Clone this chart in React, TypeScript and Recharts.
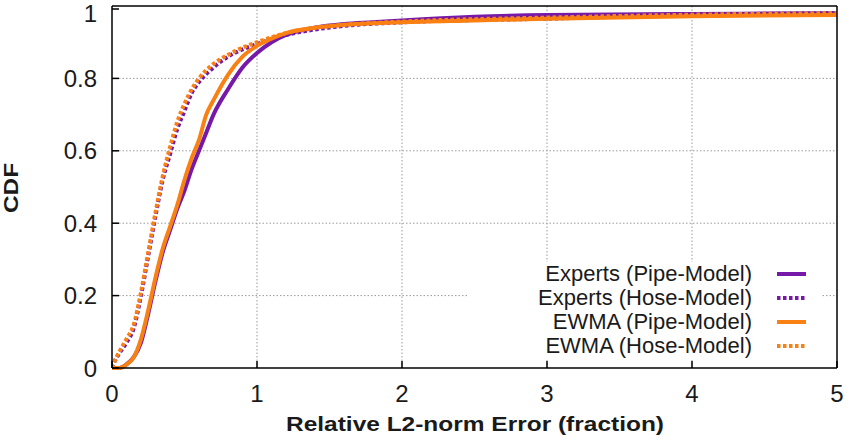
import React from 'react';
import {
    LineChart,
    Line,
    XAxis,
    YAxis,
    CartesianGrid,
} from 'recharts';

const themeColors = {
    experts: '#7619a8',
    ewma: '#f98012',
    grid: '#9a9a9a',
    axis: '#000000',
    text: '#1a1a1a'
};

const fontFamily = '"Liberation Sans", Arial, Helvetica, sans-serif';

// CDF samples: [error, cumulative fraction]
const expertsPipe = [
    [0, 0], [0.05, 0], [0.1, 0.01], [0.15, 0.03], [0.2, 0.07], [0.25, 0.15],
    [0.3, 0.24], [0.35, 0.32], [0.4, 0.38], [0.45, 0.44], [0.5, 0.49],
    [0.55, 0.55], [0.6, 0.6], [0.65, 0.65], [0.7, 0.7], [0.8, 0.77],
    [0.9, 0.83], [1.0, 0.87], [1.1, 0.9], [1.2, 0.92], [1.4, 0.94],
    [1.6, 0.95], [1.8, 0.955], [2.0, 0.96], [2.5, 0.97], [3.0, 0.975],
    [4.0, 0.978], [5.0, 0.98]
];

const expertsHose = [
    [0, 0], [0.02, 0.02], [0.05, 0.04], [0.1, 0.07], [0.15, 0.11], [0.2, 0.2],
    [0.25, 0.31], [0.3, 0.42], [0.35, 0.52], [0.4, 0.59], [0.45, 0.66],
    [0.5, 0.71], [0.55, 0.76], [0.6, 0.79], [0.7, 0.83], [0.8, 0.86],
    [0.9, 0.88], [1.0, 0.895], [1.2, 0.92], [1.4, 0.935], [1.6, 0.945],
    [2.0, 0.955], [3.0, 0.965], [4.0, 0.975], [5.0, 0.98]
];

const ewmaPipe = [
    [0, 0], [0.05, 0], [0.1, 0.01], [0.15, 0.03], [0.2, 0.08], [0.25, 0.16],
    [0.3, 0.25], [0.35, 0.33], [0.4, 0.39], [0.45, 0.45], [0.5, 0.52],
    [0.55, 0.58], [0.6, 0.63], [0.65, 0.7], [0.7, 0.74], [0.8, 0.81],
    [0.9, 0.86], [1.0, 0.89], [1.1, 0.91], [1.2, 0.925], [1.4, 0.94],
    [1.6, 0.948], [2.0, 0.955], [2.5, 0.96], [3.0, 0.965], [4.0, 0.972],
    [5.0, 0.975]
];

const ewmaHose = [
    [0, 0], [0.02, 0.02], [0.05, 0.045], [0.1, 0.08], [0.15, 0.12], [0.2, 0.21],
    [0.25, 0.32], [0.3, 0.43], [0.35, 0.53], [0.4, 0.61], [0.45, 0.68],
    [0.5, 0.73], [0.55, 0.77], [0.6, 0.8], [0.7, 0.84], [0.8, 0.865],
    [0.9, 0.885], [1.0, 0.9], [1.2, 0.925], [1.4, 0.94], [1.6, 0.948],
    [2.0, 0.957], [3.0, 0.968], [4.0, 0.976], [5.0, 0.98]
];

const xTicks = [0, 1, 2, 3, 4, 5];
const yTicks = [0, 0.2, 0.4, 0.6, 0.8, 1];

const series = [
    { name: 'Experts (Pipe-Model)', points: expertsPipe, color: themeColors.experts, dash: undefined },
    { name: 'Experts (Hose-Model)', points: expertsHose, color: themeColors.experts, dash: '3.5 2.5' },
    { name: 'EWMA (Pipe-Model)', points: ewmaPipe, color: themeColors.ewma, dash: undefined },
    { name: 'EWMA (Hose-Model)', points: ewmaHose, color: themeColors.ewma, dash: '3.5 2.5' }
];

const toRows = (pts: number[][]) => pts.map(([x, y]) => ({ x, y }));

const TICK_LEN = 7;

const BottomTick = ({ x, y, payload }: any) => (
    <g>
        <line x1={x} x2={x} y1={y} y2={y - TICK_LEN} stroke={themeColors.axis} strokeWidth={1.5} />
        <text x={x} y={y + 34} textAnchor="middle" fontSize={24} fontFamily={fontFamily} fill={themeColors.text}>
            {payload.value}
        </text>
    </g>
);

const TopTick = ({ x, y }: any) => (
    <line x1={x} x2={x} y1={y} y2={y + TICK_LEN} stroke={themeColors.axis} strokeWidth={1.5} />
);

// keep the topmost label ("1") inside the canvas
const LeftTick = ({ x, y, payload }: any) => (
    <g>
        <line x1={x} x2={x + TICK_LEN} y1={y} y2={y} stroke={themeColors.axis} strokeWidth={1.5} />
        <text x={x - 15} y={Math.max(y + 8.5, 22)} textAnchor="end" fontSize={24} fontFamily={fontFamily} fill={themeColors.text}>
            {payload.value}
        </text>
    </g>
);

const RightTick = ({ x, y }: any) => (
    <line x1={x} x2={x - TICK_LEN} y1={y} y2={y} stroke={themeColors.axis} strokeWidth={1.5} />
);

function KeyBox() {
    return (
        <div
            style={{
                position: 'absolute',
                left: 467,
                top: 262,
                width: 355,
                height: 98,
                background: '#fff',
                fontFamily,
                fontSize: 22,
                color: themeColors.text
            }}
        >
            {series.map((s, i) => (
                <div
                    key={s.name}
                    style={{
                        position: 'absolute',
                        right: 0,
                        top: i * 24,
                        height: 24,
                        display: 'flex',
                        alignItems: 'center',
                        whiteSpace: 'nowrap'
                    }}
                >
                    <span>{s.name}</span>
                    <svg width={70} height={24} style={{ display: 'block' }}>
                        <line
                            x1={25}
                            x2={54}
                            y1={12}
                            y2={12}
                            stroke={s.color}
                            strokeWidth={4}
                            strokeDasharray={s.dash}
                        />
                    </svg>
                </div>
            ))}
        </div>
    );
}

export default function App() {
    return (
        <div style={{ position: 'absolute', left: 0, top: 0, width: 847, height: 441, background: '#fff' }}>
            <LineChart width={847} height={441} margin={{ top: 5, right: 9, left: 12, bottom: 13 }}>
                <CartesianGrid
                    stroke={themeColors.grid}
                    strokeDasharray="1.5 2"
                    horizontalValues={[0.2, 0.4, 0.6, 0.8]}
                    verticalValues={[1, 2, 3, 4]}
                />
                <XAxis
                    dataKey="x"
                    type="number"
                    domain={[0, 5]}
                    ticks={xTicks}
                    height={60}
                    tickSize={0}
                    tickMargin={0}
                    tickLine={false}
                    axisLine={{ stroke: themeColors.axis, strokeWidth: 1.5 }}
                    tick={<BottomTick />}
                    allowDataOverflow
                    label={{
                        content: () => (
                            <text
                                x={286}
                                y={431}
                                textLength={378}
                                lengthAdjust="spacingAndGlyphs"
                                fontSize={21}
                                fontWeight="bold"
                                fontFamily={fontFamily}
                                fill={themeColors.text}
                            >
                                Relative L2-norm Error (fraction)
                            </text>
                        )
                    }}
                />
                <XAxis
                    xAxisId="top"
                    orientation="top"
                    dataKey="x"
                    type="number"
                    domain={[0, 5]}
                    ticks={xTicks}
                    height={1}
                    tickSize={0}
                    tickMargin={0}
                    tickLine={false}
                    axisLine={{ stroke: themeColors.axis, strokeWidth: 1.5 }}
                    tick={<TopTick />}
                />
                <YAxis
                    type="number"
                    domain={[0, 1]}
                    ticks={yTicks}
                    width={100}
                    tickSize={0}
                    tickMargin={0}
                    tickLine={false}
                    axisLine={{ stroke: themeColors.axis, strokeWidth: 1.5 }}
                    tick={<LeftTick />}
                    label={{
                        content: () => (
                            <text
                                x={0}
                                y={0}
                                transform="translate(18 213) rotate(-90)"
                                textLength={50}
                                lengthAdjust="spacingAndGlyphs"
                                fontSize={21}
                                fontWeight="bold"
                                fontFamily={fontFamily}
                                fill={themeColors.text}
                            >
                                CDF
                            </text>
                        )
                    }}
                />
                <YAxis
                    yAxisId="right"
                    orientation="right"
                    type="number"
                    domain={[0, 1]}
                    ticks={yTicks}
                    width={1}
                    tickSize={0}
                    tickMargin={0}
                    tickLine={false}
                    axisLine={{ stroke: themeColors.axis, strokeWidth: 1.5 }}
                    tick={<RightTick />}
                />
                {series.map((s) => (
                    <Line
                        key={s.name}
                        data={toRows(s.points)}
                        dataKey="y"
                        name={s.name}
                        type="monotone"
                        stroke={s.color}
                        strokeWidth={4}
                        strokeDasharray={s.dash}
                        dot={false}
                        activeDot={false}
                        isAnimationActive={false}
                    />
                ))}
            </LineChart>
            <KeyBox />
        </div>
    );
}
